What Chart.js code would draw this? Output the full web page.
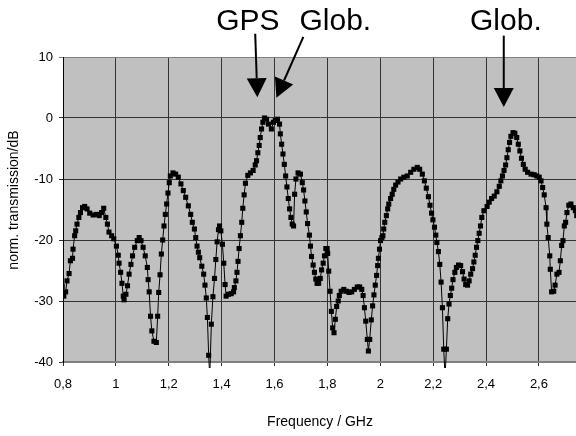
<!DOCTYPE html>
<html><head><meta charset="utf-8">
<script src="https://cdn.jsdelivr.net/npm/chart.js@4.4.1/dist/chart.umd.min.js"></script>
<style>html,body{margin:0;padding:0;background:#fff;overflow:hidden}#wrap{width:576px;height:436px;overflow:hidden}</style>
</head><body><div id="wrap"><canvas id="c" width="581" height="436"></canvas></div>
<script>
// Measured transmission curve (frequency in GHz, normalised transmission in dB)
const frequencyGHz = [
0.797,0.803,0.810,0.815,0.823,0.828,0.836,0.838,0.844,0.848,0.853,0.860,0.866,0.874,0.882,0.891,0.901,0.914,0.927,0.937,
0.946,0.954,0.962,0.968,0.974,0.984,0.992,1.002,1.009,1.012,1.018,1.023,1.028,1.031,1.038,1.044,1.050,1.057,1.063,1.071,
1.081,1.088,1.095,1.103,1.111,1.119,1.122,1.126,1.131,1.136,1.144,1.153,1.158,1.162,1.167,1.172,1.177,1.182,1.187,1.192,
1.197,1.202,1.206,1.216,1.226,1.236,1.246,1.255,1.264,1.274,1.283,1.289,1.297,1.302,1.307,1.312,1.317,1.325,1.332,1.337,
1.342,1.346,1.351,1.355,1.361,1.367,1.373,1.378,1.383,1.388,1.392,1.397,1.403,1.408,1.413,1.417,1.426,1.436,1.445,1.448,
1.454,1.458,1.462,1.466,1.471,1.476,1.480,1.485,1.490,1.499,1.509,1.519,1.527,1.532,1.537,1.542,1.546,1.551,1.556,1.562,
1.570,1.577,1.588,1.596,1.603,1.611,1.619,1.622,1.627,1.632,1.637,1.642,1.647,1.652,1.657,1.662,1.667,1.672,1.676,1.681,
1.689,1.698,1.705,1.710,1.715,1.720,1.725,1.732,1.736,1.740,1.746,1.751,1.756,1.761,1.767,1.773,1.778,1.784,1.789,1.794,
1.799,1.801,1.805,1.810,1.815,1.820,1.825,1.830,1.835,1.841,1.845,1.852,1.862,1.872,1.882,1.892,1.902,1.913,1.922,1.930,
1.935,1.940,1.945,1.951,1.955,1.960,1.966,1.971,1.976,1.981,1.986,1.990,1.993,1.997,2.001,2.006,2.010,2.013,2.017,2.023,
2.028,2.032,2.039,2.045,2.051,2.058,2.067,2.077,2.089,2.102,2.115,2.127,2.140,2.149,2.159,2.167,2.174,2.182,2.188,2.194,
2.199,2.205,2.210,2.214,2.220,2.225,2.230,2.235,2.240,2.245,2.250,2.255,2.260,2.265,2.270,2.275,2.282,2.288,2.296,2.304,
2.311,2.317,2.323,2.330,2.336,2.342,2.349,2.354,2.359,2.364,2.369,2.374,2.379,2.384,2.392,2.404,2.412,2.421,2.431,2.441,
2.450,2.456,2.462,2.468,2.474,2.479,2.484,2.489,2.494,2.502,2.509,2.516,2.522,2.528,2.534,2.541,2.548,2.557,2.570,2.582,
2.592,2.601,2.608,2.614,2.620,2.627,2.630,2.635,2.641,2.643,2.648,2.656,2.661,2.668,2.676,2.681,2.686,2.691,2.696,2.701,
2.706,2.713,2.721,2.730,2.738,2.743,2.750
];
const transmissionDb = [
-27.6,-29.2,-28.5,-26.7,-25.5,-23.4,-23.0,-21.5,-19.3,-18.5,-17.4,-16.3,-15.5,-14.7,-14.5,-14.9,-15.6,-15.9,-15.8,-16.0,
-15.5,-14.8,-16.3,-17.4,-18.7,-19.3,-19.8,-21.0,-22.5,-23.8,-25.3,-27.1,-29.2,-29.8,-28.9,-27.5,-25.6,-24.0,-22.6,-21.2,
-20.1,-19.6,-20.1,-21.2,-22.6,-24.5,-26.5,-28.5,-32.5,-34.9,-36.6,-36.8,-32.5,-28.6,-25.7,-22.3,-20.0,-17.7,-15.8,-14.1,
-12.3,-10.6,-9.5,-9.0,-9.2,-9.7,-10.8,-11.9,-13.0,-14.4,-15.8,-17.1,-18.2,-19.6,-21.0,-22.0,-22.9,-24.3,-25.6,-27.4,
-29.5,-32.7,-38.9,-42.5,-33.8,-29.3,-26.3,-23.2,-20.3,-18.3,-17.7,-18.5,-20.7,-23.8,-27.3,-29.2,-28.9,-28.8,-28.5,-27.8,
-26.7,-25.3,-23.5,-21.4,-19.3,-17.1,-14.8,-12.6,-10.7,-9.4,-9.0,-8.6,-7.7,-7.0,-5.7,-4.5,-3.2,-1.8,-0.7,0.0,
-0.2,-1.0,-1.8,-0.7,-0.4,-0.2,-1.0,-2.6,-4.3,-5.9,-7.6,-9.5,-11.3,-13.2,-14.9,-16.3,-17.4,-17.7,-12.5,-10.0,
-9.0,-9.2,-10.6,-11.8,-13.6,-15.4,-17.3,-19.2,-21.0,-22.7,-24.1,-25.3,-26.4,-27.1,-27.1,-26.3,-24.9,-23.8,-22.6,-21.4,
-21.4,-22.2,-25.1,-28.4,-31.7,-34.4,-35.2,-33.0,-30.9,-30.0,-29.1,-28.4,-28.1,-28.4,-28.6,-28.5,-28.1,-27.7,-27.7,-28.1,
-29.1,-31.1,-33.3,-36.3,-38.2,-36.3,-33.1,-30.8,-29.0,-27.4,-25.8,-24.2,-23.0,-21.5,-20.1,-19.6,-19.3,-18.2,-17.1,-16.0,
-14.9,-14.1,-13.2,-12.5,-11.7,-11.0,-10.5,-10.0,-9.7,-9.5,-8.9,-8.4,-8.1,-8.4,-9.2,-10.3,-11.5,-12.9,-14.3,-15.6,
-16.7,-17.9,-19.2,-20.4,-21.9,-24.0,-26.9,-31.1,-37.9,-42.5,-37.9,-32.9,-30.5,-29.1,-27.9,-26.5,-25.3,-24.5,-24.1,-24.2,
-25.2,-26.4,-27.3,-27.4,-26.7,-25.6,-24.7,-23.6,-22.5,-21.2,-20.1,-18.9,-17.7,-16.3,-15.2,-14.5,-13.8,-13.2,-12.8,-12.1,
-11.2,-10.3,-9.5,-8.6,-7.7,-6.5,-5.2,-4.0,-3.0,-2.4,-2.5,-3.2,-4.3,-5.4,-6.6,-7.6,-8.4,-8.9,-9.2,-9.3,
-9.5,-9.7,-10.3,-11.4,-12.6,-14.7,-17.4,-19.6,-22.6,-24.8,-28.5,-28.4,-27.4,-25.6,-25.3,-23.4,-20.9,-20.1,-17.7,-17.1,
-15.5,-14.3,-14.1,-14.7,-15.2,-16.0,-16.4
];
const xTickValues = [0.8, 1.0, 1.2, 1.4, 1.6, 1.8, 2.0, 2.2, 2.4, 2.6];
const xTickLabels = ['0,8', '1', '1,2', '1,4', '1,6', '1,8', '2', '2,2', '2,4', '2,6'];
const yTickValues = [-40, -30, -20, -10, 0, 10];
const yTickLabels = ['-40', '-30', '-20', '-10', '0', '10'];
const xRange = [0.8, 2.744];
const yRange = [-40, 10];
const xTitle = 'Frequency / GHz';
const yTitle = 'norm. transmission/dB';
// Annotations (arrows pointing to the GPS / GLONASS bands)
const arrowLabels = ['GPS', 'Glob.', 'Glob.'];
const labelFreq = [1.499, 1.830, 2.475];
const labelDb = [14.4, 14.4, 14.4];
const arrowTailFreq = [1.527, 1.709, 2.467];
const arrowTailDb = [13.8, 13.3, 13.5];
const arrowTipFreq = [1.535, 1.607, 2.467];
const arrowTipDb = [3.4, 3.3, 1.8];

const FONT = '"Liberation Sans", Arial, sans-serif';

const decor = {
  id: 'decor',
  beforeDraw(chart) {
    const {ctx, chartArea: a} = chart;
    ctx.save();
    ctx.fillStyle = '#c0c0c0';
    ctx.fillRect(a.left, a.top, a.right - a.left, a.bottom - a.top);
    ctx.restore();
  },
  afterDraw(chart) {
    const {ctx, scales: {x, y}} = chart;
    ctx.save();
    ctx.fillStyle = '#000';
    ctx.font = '14px ' + FONT;
    ctx.textAlign = 'center';
    ctx.textBaseline = 'middle';
    ctx.translate(14, 200);
    ctx.rotate(-Math.PI / 2);
    ctx.fillText(yTitle, 0, 0);
    ctx.restore();

    ctx.save();
    ctx.fillStyle = '#000';
    ctx.strokeStyle = '#000';
    ctx.font = '30px ' + FONT;
    ctx.textAlign = 'center';
    ctx.textBaseline = 'alphabetic';
    for (let i = 0; i < arrowLabels.length; i++) {
      ctx.fillText(arrowLabels[i], x.getPixelForValue(labelFreq[i]), y.getPixelForValue(labelDb[i]));
      const tx = x.getPixelForValue(arrowTailFreq[i]), ty = y.getPixelForValue(arrowTailDb[i]);
      const px = x.getPixelForValue(arrowTipFreq[i]), py = y.getPixelForValue(arrowTipDb[i]);
      const dx = px - tx, dy = py - ty, len = Math.hypot(dx, dy);
      const ux = dx / len, uy = dy / len, nx = -uy, ny = ux;
      const headLen = 19, headHalf = 10;
      const bx = px - ux * headLen, by = py - uy * headLen;
      ctx.lineWidth = 2;
      ctx.beginPath();
      ctx.moveTo(tx, ty);
      ctx.lineTo(bx, by);
      ctx.stroke();
      ctx.beginPath();
      ctx.moveTo(px, py);
      ctx.lineTo(bx + nx * headHalf, by + ny * headHalf);
      ctx.lineTo(bx - nx * headHalf, by - ny * headHalf);
      ctx.closePath();
      ctx.fill();
    }
    ctx.restore();
  }
};

const points = frequencyGHz.map((f, i) => ({x: f, y: transmissionDb[i]}));

new Chart(document.getElementById('c'), {
  type: 'line',
  data: {
    datasets: [{
      data: points,
      borderColor: '#000',
      borderWidth: 1,
      backgroundColor: '#000',
      pointStyle: 'rect',
      pointRadius: 3.6,
      pointBorderWidth: 0,
      pointBackgroundColor: '#000',
      tension: 0,
      clip: {left: 0, top: 0, right: 0, bottom: 6}
    }]
  },
  options: {
    responsive: false,
    animation: false,
    devicePixelRatio: 1,
    layout: {padding: {top: 57, right: 0, bottom: 0, left: 0}},
    plugins: {legend: {display: false}, tooltip: {enabled: false}},
    scales: {
      x: {
        type: 'linear',
        min: xRange[0],
        max: xRange[1],
        afterBuildTicks: s => { s.ticks = xTickValues.map(v => ({value: v})); },
        afterFit: s => { s.height = 74; s.paddingLeft = 0; s.paddingRight = 0; },
        ticks: {
          callback: (v, i) => xTickLabels[i],
          color: '#000',
          font: {family: FONT, size: 13},
          padding: 11,
          maxRotation: 0,
          autoSkip: false
        },
        grid: {color: '#333', lineWidth: 1, tickLength: 4, tickColor: '#333'},
        border: {color: '#808080', width: 2},
        title: {display: true, text: xTitle, color: '#000', font: {family: FONT, size: 14}, padding: {top: 0, bottom: 5}}
      },
      y: {
        type: 'linear',
        min: yRange[0],
        max: yRange[1],
        afterBuildTicks: s => { s.ticks = yTickValues.map(v => ({value: v})); },
        afterFit: s => { s.width = 63; s.paddingTop = 0; s.paddingBottom = 0; },
        ticks: {
          callback: (v, i) => yTickLabels[i],
          color: '#000',
          font: {family: FONT, size: 13},
          padding: 6
        },
        grid: {
          color: c => (c.tick && c.tick.value === 10) ? '#808080' : '#333',
          lineWidth: 1,
          tickLength: 4
        },
        border: {color: '#000', width: 1}
      }
    }
  },
  plugins: [decor]
});
</script>
</body></html>
